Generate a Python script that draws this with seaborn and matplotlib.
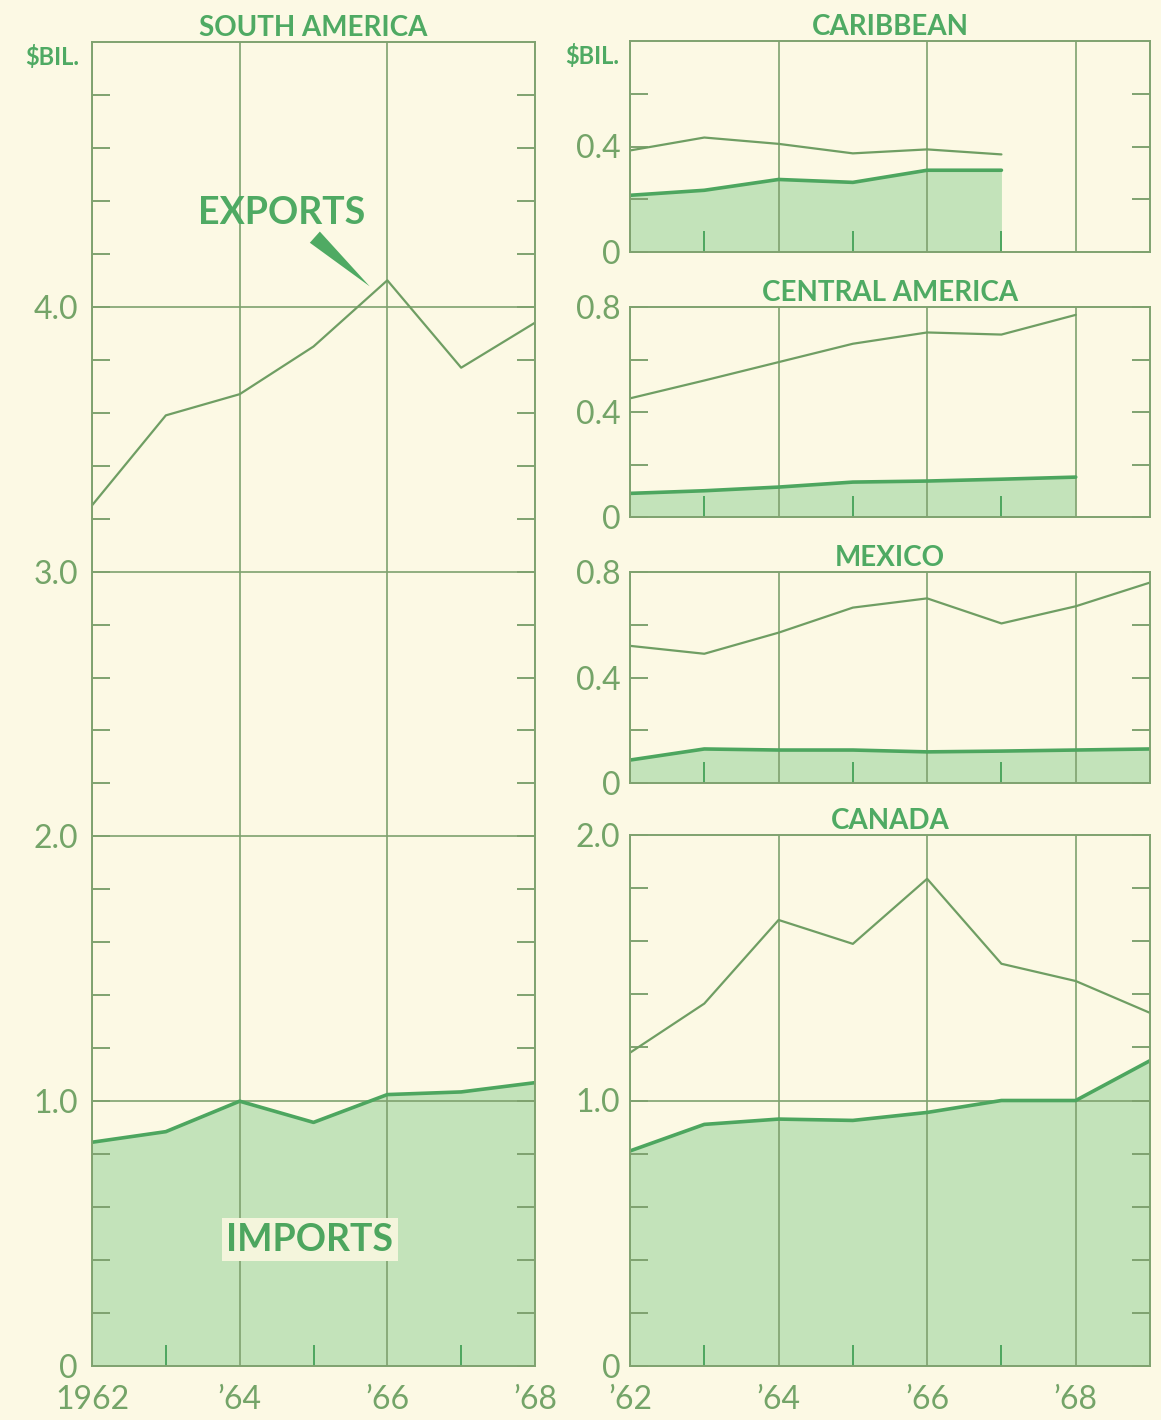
import numpy as np
import pandas as pd
import matplotlib
matplotlib.use("Agg")
import matplotlib.pyplot as plt
import seaborn as sns
from matplotlib.ticker import FixedLocator

# ---------------- data ----------------
years = [1962, 1963, 1964, 1965, 1966, 1967, 1968, 1969]

sa_years = years[:7]
sa_exports = [3.25, 3.59, 3.67, 3.85, 4.10, 3.77, 3.94]
sa_imports = [0.845, 0.885, 1.00, 0.92, 1.025, 1.035, 1.07]

car_years = years[:6]
car_exports = [0.385, 0.434, 0.41, 0.374, 0.389, 0.37]
car_imports = [0.215, 0.234, 0.275, 0.264, 0.31, 0.31]

cam_years = years[:7]
cam_exports = [0.452, 0.52, 0.59, 0.66, 0.703, 0.695, 0.77]
cam_imports = [0.09, 0.10, 0.114, 0.133, 0.137, 0.144, 0.152]

mex_years = years
mex_exports = [0.52, 0.49, 0.57, 0.665, 0.70, 0.605, 0.67, 0.76]
mex_imports = [0.087, 0.129, 0.125, 0.125, 0.118, 0.121, 0.125, 0.129]

can_years = years
can_exports = [1.18, 1.365, 1.68, 1.59, 1.835, 1.515, 1.45, 1.33]
can_imports = [0.81, 0.91, 0.93, 0.925, 0.955, 1.0, 1.0, 1.15]

left_xlabels = ["1962", "\u201964", "\u201966", "\u201968"]
right_xlabels = ["\u201962", "\u201964", "\u201966", "\u201968"]

# ---------------- style ----------------
BG = "#FCF9E4"
FRAME = "#7FA26F"
EXP_C = "#6F9E63"
IMP_C = "#4DA65F"
FILL = "#C3E3BA"
TITLE_C = "#4FAA63"
TICK_C = "#74A468"

sns.set_theme(style="white")
plt.rcParams["font.family"] = ["Lato", "DejaVu Sans"]
plt.rcParams["axes.edgecolor"] = FRAME
plt.rcParams["axes.linewidth"] = 1.4

W, H = 1161, 1420
fig = plt.figure(figsize=(W / 100, H / 100), dpi=100, facecolor=BG)


def px_axes(x0, x1, ytop, ybot):
    return fig.add_axes([x0 / W, 1 - ybot / H, (x1 - x0) / W, (ybot - ytop) / H])


def panel(ax, yrs, exp, imp, xmax, ymax, major_y, major_lbls, minor_y,
          ygrid, title, xlabels=None, ypad=7):
    df = pd.DataFrame({"year": yrs, "exports": exp, "imports": imp})
    ax.set_facecolor(BG)
    ax.fill_between(df["year"], 0, df["imports"], color=FILL, lw=0, zorder=1)
    sns.lineplot(data=df, x="year", y="exports", ax=ax, color=EXP_C, lw=1.6,
                 zorder=4)
    sns.lineplot(data=df, x="year", y="imports", ax=ax, color=IMP_C, lw=2.6,
                 zorder=4)
    ax.set_xlim(1962, xmax)
    ax.set_ylim(0, ymax)
    ax.set_xlabel("")
    ax.set_ylabel("")
    for s in ax.spines.values():
        s.set_color(FRAME)
        s.set_linewidth(1.4)
        s.set_zorder(5)

    # x ticks: majors at even years (grid), minors at odd years (inward ticks)
    ax.xaxis.set_major_locator(FixedLocator([1962, 1964, 1966, 1968]))
    ax.xaxis.set_minor_locator(FixedLocator([1963, 1965, 1967]))
    ax.grid(False)
    ax.xaxis.grid(True, which="major", color=FRAME, lw=1.2, zorder=2)
    ax.set_axisbelow(False)
    ax.tick_params(axis="x", which="major", length=0, pad=14,
                   labelsize=23, labelcolor=TICK_C)
    ax.tick_params(axis="x", which="minor", direction="in", length=15,
                   width=1.4, color=IMP_C, bottom=True)
    if xlabels is None:
        ax.set_xticklabels([])
    else:
        ax.set_xticklabels(xlabels, fontweight="normal")

    # y ticks
    ax.yaxis.set_major_locator(FixedLocator(major_y))
    ax.yaxis.set_minor_locator(FixedLocator(minor_y))
    ax.set_yticklabels(major_lbls, fontweight="normal")
    ax.tick_params(axis="y", which="both", direction="in", length=13,
                   width=1.4, color=FRAME, left=True, right=True,
                   labelsize=23, labelcolor=TICK_C, pad=ypad)
    if ygrid is not None:
        for v in ygrid:
            ax.axhline(v, color=FRAME, lw=1.2, zorder=2)
    ax.set_title(title, fontsize=20, fontweight="bold", color=TITLE_C, pad=4)


# South America
ax1 = px_axes(92, 535, 42, 1366)
panel(ax1, sa_years, sa_exports, sa_imports, 1968, 5.0,
      [0, 1, 2, 3, 4], ["0", "1.0", "2.0", "3.0", "4.0"],
      [v / 10 for v in range(2, 50, 2) if v % 10 != 0],
      [1, 2, 3, 4], "SOUTH AMERICA", left_xlabels, ypad=10)
ax1.text(-0.03, 0.989, "\\$BIL.", transform=ax1.transAxes, ha="right",
         va="center", fontsize=17, fontweight="bold", color=TITLE_C)
ax1.text(1964.57, 4.354, "EXPORTS", ha="center", va="center", fontsize=27,
         fontweight="bold", color=TITLE_C, zorder=6)
ax1.annotate("", xy=(1965.79, 4.07), xytext=(1964.99, 4.27),
             arrowprops=dict(arrowstyle="wedge,tail_width=0.9,shrink_factor=0.5",
                             color=TITLE_C, lw=0), zorder=6)
ax1.text(1964.95, 0.476, "IMPORTS", ha="center", va="center", fontsize=27,
         fontweight="bold", color=IMP_C, zorder=6,
         bbox=dict(boxstyle="square,pad=0.12", fc="#F4F5DC", ec="none"))

# Caribbean
ax2 = px_axes(630, 1150, 41, 252)
panel(ax2, car_years, car_exports, car_imports, 1969, 0.8,
      [0, 0.4], ["0", "0.4"], [0.2, 0.6], None, "CARIBBEAN")
ax2.text(-0.02, 0.93, "\\$BIL.", transform=ax2.transAxes, ha="right",
         va="center", fontsize=17, fontweight="bold", color=TITLE_C)

# Central America
ax3 = px_axes(630, 1150, 307, 517)
panel(ax3, cam_years, cam_exports, cam_imports, 1969, 0.8,
      [0, 0.4, 0.8], ["0", "0.4", "0.8"], [0.2, 0.6], None, "CENTRAL AMERICA")

# Mexico
ax4 = px_axes(630, 1150, 572, 783)
panel(ax4, mex_years, mex_exports, mex_imports, 1969, 0.8,
      [0, 0.4, 0.8], ["0", "0.4", "0.8"], [0.2, 0.6], None, "MEXICO")

# Canada
ax5 = px_axes(630, 1150, 835, 1366)
panel(ax5, can_years, can_exports, can_imports, 1969, 2.0,
      [0, 1, 2], ["0", "1.0", "2.0"],
      [v / 10 for v in range(2, 20, 2) if v % 10 != 0],
      [1], "CANADA", right_xlabels)

fig.savefig("out.png", dpi=100, facecolor=BG)
